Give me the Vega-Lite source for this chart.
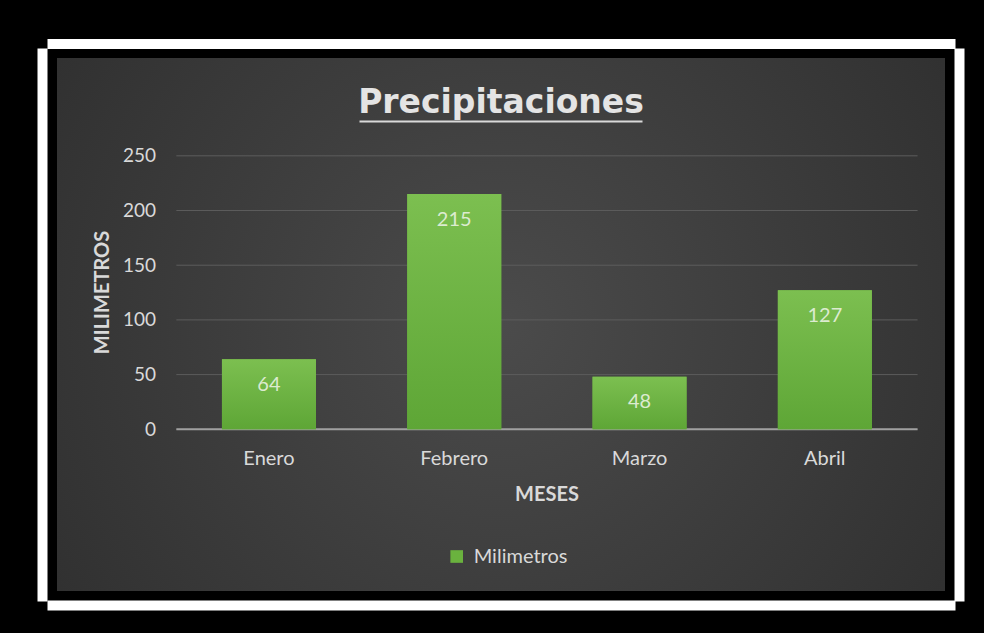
{
  "$schema": "https://vega.github.io/schema/vega-lite/v6.json",
  "width": 898,
  "height": 543,
  "autosize": {"type": "none"},
  "padding": {"left": 52, "top": 53, "right": 34, "bottom": 37},
  "background": "#000000",
  "title": {
    "text": "Precipitaciones",
    "anchor": "middle",
    "offset": -102,
    "baseline": "alphabetic",
    "font": "DejaVu Sans",
    "fontSize": 33,
    "fontWeight": "bold",
    "color": "#e4e4e4"
  },
  "config": {
    "font": "Lato",
    "view": {
      "fill": {
        "gradient": "radial",
        "x1": 0.5, "y1": 0.5, "r1": 0,
        "x2": 0.5, "y2": 0.5, "r2": 0.75,
        "stops": [
          {"offset": 0, "color": "#4b4b4b"},
          {"offset": 1, "color": "#292929"}
        ]
      },
      "stroke": "#000000",
      "strokeWidth": 10
    },
    "axis": {"grid": false}
  },
  "layer": [
    {
      "layer": [
        {
          "data": {"values": [{"v": 0}, {"v": 50}, {"v": 100}, {"v": 150}, {"v": 200}, {"v": 250}]},
          "mark": {"type": "rule", "color": "#5c5c5c", "strokeWidth": 1},
          "encoding": {
            "y": {
              "field": "v", "type": "quantitative",
              "scale": {"domain": [-152.4, 344], "nice": false, "zero": false},
              "axis": {"orient": "right", "offset": 9, "domain": true, "domainColor": "#ffffff", "domainWidth": 10, "domainCap": "square", "ticks": false, "labels": false, "grid": false, "title": null}
            },
            "x": {
              "datum": -0.5, "type": "quantitative",
              "scale": {"domain": [-1.171, 3.675], "nice": false, "zero": false},
              "axis": {"orient": "top", "offset": 9.5, "domain": true, "domainColor": "#ffffff", "domainWidth": 10, "domainCap": "square", "ticks": false, "labels": false, "grid": false, "title": null}
            },
            "x2": {"datum": 3.5}
          }
        },
        {
          "data": {"values": [{}]},
          "mark": {"type": "rule", "color": "#a0a0a0", "strokeWidth": 2},
          "encoding": {
            "y": {
              "datum": 0, "type": "quantitative",
              "axis": {"orient": "left", "offset": 10, "domain": true, "domainColor": "#ffffff", "domainWidth": 10, "domainCap": "square", "ticks": false, "labels": false, "grid": false, "title": null}
            },
            "x": {
              "datum": -0.5, "type": "quantitative",
              "axis": {"orient": "bottom", "offset": 9, "domain": true, "domainColor": "#ffffff", "domainWidth": 10, "domainCap": "square", "ticks": false, "labels": false, "grid": false, "title": null}
            },
            "x2": {"datum": 3.5}
          }
        }
      ],
      "resolve": {"axis": {"x": "independent", "y": "independent"}}
    },
    {
      "data": {
        "values": [
          {"mes": "Enero", "mm": 64, "serie": "Milimetros"},
          {"mes": "Febrero", "mm": 215, "serie": "Milimetros"},
          {"mes": "Marzo", "mm": 48, "serie": "Milimetros"},
          {"mes": "Abril", "mm": 127, "serie": "Milimetros"}
        ]
      },
      "encoding": {
        "x": {
          "field": "mes", "type": "nominal", "sort": null,
          "scale": {"paddingInner": 0.4927, "paddingOuter": 0.6695, "align": 0.685},
          "axis": {
            "orient": "bottom", "offset": -166.7, "domain": false, "ticks": false, "grid": false,
            "labelAngle": 0, "labelPadding": 19, "labelFont": "Lato", "labelFontSize": 20, "labelColor": "#d9d9d9",
            "title": "MESES", "titleFont": "Lato", "titleFontSize": 20, "titleFontWeight": "bold", "titleColor": "#d9d9d9",
            "titleX": 494.5, "titleY": 70.7, "titleAlign": "center", "titleBaseline": "alphabetic", "titleAngle": 0
          }
        },
        "y": {
          "field": "mm", "type": "quantitative",
          "scale": {"domain": [-152.4, 344], "nice": false, "zero": false},
          "axis": {
            "orient": "left", "offset": -103.5, "values": [0, 50, 100, 150, 200, 250],
            "domain": false, "ticks": false, "grid": false,
            "labelPadding": 0, "labelFont": "Lato", "labelFontSize": 19, "labelColor": "#d9d9d9",
            "title": "MILIMETROS", "titleFont": "Lato", "titleFontSize": 20, "titleFontWeight": "bold", "titleColor": "#d9d9d9",
            "titleX": -47, "titleY": 239, "titleAlign": "center", "titleBaseline": "alphabetic", "titleAngle": 270
          }
        }
      },
      "layer": [
        {
          "mark": {"type": "bar"},
          "encoding": {
            "color": {
              "field": "serie", "type": "nominal",
              "scale": {"range": ["#6ab23e"]},
              "legend": {
                "orient": "none", "legendX": 394.7, "legendY": 493.5, "title": null,
                "symbolType": "square", "symbolSize": 160, "symbolStrokeWidth": 0,
                "labelFont": "Lato", "labelFontSize": 20, "labelColor": "#d9d9d9", "labelOffset": 7, "padding": 0
              }
            }
          }
        },
        {
          "mark": {
            "type": "bar",
            "color": {
              "gradient": "linear", "x1": 0, "y1": 0, "x2": 0, "y2": 1,
              "stops": [{"offset": 0, "color": "#7cbf50"}, {"offset": 1, "color": "#5ea636"}]
            }
          },
          "encoding": {
            "y": {"field": "mm", "type": "quantitative", "axis": null}
          }
        },
        {
          "mark": {"type": "text", "baseline": "middle", "dy": 25.5, "font": "Lato", "fontSize": 20, "color": "#dcebd0"},
          "encoding": {
            "text": {"field": "mm", "type": "quantitative"},
            "y": {
              "field": "mm", "type": "quantitative",
              "axis": {"orient": "left", "offset": -307, "values": [282.1], "domain": false, "labels": false, "grid": false, "ticks": true, "tickSize": -283, "tickWidth": 2, "tickColor": "#d9d9d9", "title": null}
            }
          }
        }
      ],
      "resolve": {"axis": {"y": "independent"}}
    }
  ],
  "resolve": {"scale": {"x": "independent"}, "axis": {"x": "independent", "y": "independent"}}
}
